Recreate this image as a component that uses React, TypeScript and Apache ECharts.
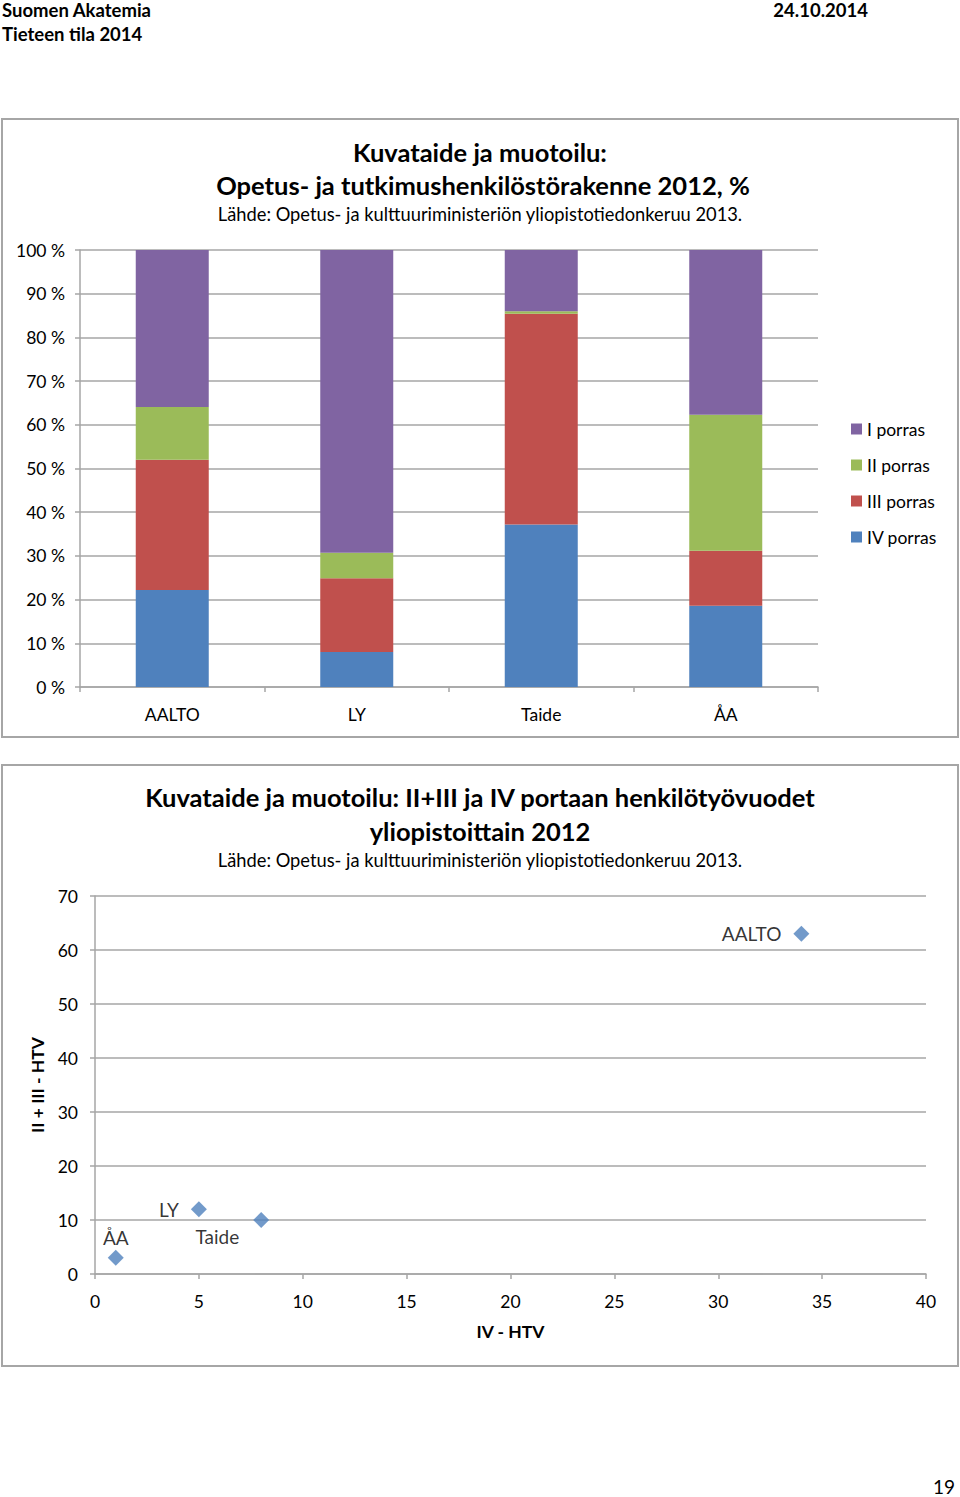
import React, { useEffect, useRef } from "react";
import * as echarts from "echarts";

const categories = ["AALTO", "LY", "Taide", "ÅA"];
const porrasI = [35.9, 69.3, 14.0, 37.7];
const porrasII = [12.1, 5.8, 0.6, 31.1];
const porrasIII = [29.8, 16.9, 48.2, 12.6];
const porrasIV = [22.2, 8.0, 37.2, 18.6];
const seriesNames = ["I porras", "II porras", "III porras", "IV porras"];

const scatterNames = ["AALTO", "LY", "Taide", "ÅA"];
const scatterX = [34, 5, 8, 1];
const scatterY = [63, 12, 10, 3];

const FONT = "Lato, 'Open Sans', sans-serif";
const BLUE = "#4F81BD";
const RED = "#C0504D";
const GREEN = "#9BBB59";
const PURPLE = "#8064A2";
const GRID = "#a6a6a6";

export default function App() {
  const ref = useRef<HTMLDivElement>(null);
  useEffect(() => {
    document.body.style.margin = "0";
    const chart = echarts.init(ref.current!, null, { renderer: "svg" });
    const txt = (text: string, x: number, y: number, size: number, bold: boolean, align = "center") => ({
      type: "text",
      x,
      y,
      style: {
        text,
        font: `${bold ? "bold " : ""}${size}px ${FONT}`,
        fill: "#000",
        textAlign: align,
        align,
        textVerticalAlign: "middle",
        verticalAlign: "middle",
      },
    });
    const labelPos: any[] = [
      { position: "left", distance: 12, offset: [0, 0] },
      { position: "left", distance: 12, offset: [0, 0] },
      { position: "left", distance: 5, offset: [-9, 16] },
      { position: "top", distance: 3, offset: [0, 0] },
    ];
    const option: any = {
      animation: false,
      backgroundColor: "#fff",
      textStyle: { fontFamily: FONT },
      graphic: [
        { type: "rect", shape: { x: 2, y: 119, width: 956, height: 618 }, style: { fill: "none", stroke: GRID, lineWidth: 2 } },
        { type: "rect", shape: { x: 2, y: 765, width: 956, height: 601 }, style: { fill: "none", stroke: GRID, lineWidth: 2 } },
        txt("Suomen Akatemia", 2, 10, 18.5, true, "left"),
        txt("Tieteen tila 2014", 2, 34, 18.5, true, "left"),
        txt("24.10.2014", 868, 10, 18.5, true, "right"),
        txt("Kuvataide ja muotoilu:", 480, 152, 25.5, true),
        txt("Opetus- ja tutkimushenkilöstörakenne 2012, %", 483, 185, 25.5, true),
        txt("Lähde: Opetus- ja kulttuuriministeriön yliopistotiedonkeruu 2013.", 480, 214, 18.3, false),
        txt("Kuvataide ja muotoilu: II+III ja IV portaan henkilötyövuodet", 480, 797, 25.5, true),
        txt("yliopistoittain 2012", 480, 831, 25.5, true),
        txt("Lähde: Opetus- ja kulttuuriministeriön yliopistotiedonkeruu 2013.", 480, 860, 18.3, false),
        txt("19", 955, 1486, 19, false, "right"),
      ],
      legend: {
        orient: "vertical",
        left: 846,
        top: 415,
        data: seriesNames,
        icon: "rect",
        itemWidth: 11,
        itemHeight: 11,
        itemGap: 18,
        itemStyle: { borderWidth: 0 },
        textStyle: { fontSize: 17.5, color: "#000", fontFamily: FONT, lineHeight: 18 },
      },
      grid: [
        { left: 80, right: 142, top: 250, bottom: 810 },
        { left: 95, right: 34, top: 896, bottom: 223 },
      ],
      xAxis: [
        {
          type: "category",
          gridIndex: 0,
          data: categories,
          axisLine: { lineStyle: { color: GRID, width: 1.5 } },
          axisTick: { show: true, length: 5, lineStyle: { color: GRID, width: 1.5 } },
          axisLabel: { color: "#000", fontSize: 17.5, margin: 18 },
        },
        {
          type: "value",
          gridIndex: 1,
          min: 0,
          max: 40,
          interval: 5,
          name: "IV - HTV",
          nameLocation: "middle",
          nameGap: 48,
          nameTextStyle: { fontSize: 17.5, fontWeight: "bold", color: "#000" },
          splitLine: { show: false },
          axisLine: { show: true, lineStyle: { color: GRID, width: 1.5 } },
          axisTick: { show: true, length: 5, lineStyle: { color: GRID, width: 1.5 } },
          axisLabel: { color: "#000", fontSize: 17.5, margin: 18 },
        },
      ],
      yAxis: [
        {
          type: "value",
          gridIndex: 0,
          min: 0,
          max: 100,
          interval: 10,
          axisLine: { show: true, lineStyle: { color: GRID, width: 1.5 } },
          axisTick: { show: true, length: 5, lineStyle: { color: GRID, width: 1.5 } },
          splitLine: { lineStyle: { color: GRID, width: 1.5 } },
          axisLabel: { color: "#000", fontSize: 17.5, margin: 15, formatter: "{value} %" },
        },
        {
          type: "value",
          gridIndex: 1,
          min: 0,
          max: 70,
          interval: 10,
          name: "II + III - HTV",
          nameLocation: "middle",
          nameGap: 47,
          nameRotate: 90,
          nameTextStyle: { fontSize: 17.5, fontWeight: "bold", color: "#000" },
          axisLine: { show: true, lineStyle: { color: GRID, width: 1.5 } },
          axisTick: { show: true, length: 5, lineStyle: { color: GRID, width: 1.5 } },
          splitLine: { lineStyle: { color: GRID, width: 1.5 } },
          axisLabel: { color: "#000", fontSize: 17.5, margin: 17 },
        },
      ],
      series: [
        { name: "IV porras", type: "bar", stack: "s", xAxisIndex: 0, yAxisIndex: 0, barWidth: 73, data: porrasIV, itemStyle: { color: BLUE } },
        { name: "III porras", type: "bar", stack: "s", xAxisIndex: 0, yAxisIndex: 0, barWidth: 73, data: porrasIII, itemStyle: { color: RED } },
        { name: "II porras", type: "bar", stack: "s", xAxisIndex: 0, yAxisIndex: 0, barWidth: 73, data: porrasII, itemStyle: { color: GREEN } },
        { name: "I porras", type: "bar", stack: "s", xAxisIndex: 0, yAxisIndex: 0, barWidth: 73, data: porrasI, itemStyle: { color: PURPLE } },
        {
          name: "HTV",
          type: "scatter",
          xAxisIndex: 1,
          yAxisIndex: 1,
          symbol: "diamond",
          symbolSize: 16,
          itemStyle: { color: BLUE },
          data: scatterNames.map((n, i) => ({
            name: n,
            value: [scatterX[i], scatterY[i]],
            label: { show: true, formatter: n, color: "#000", fontSize: 19, ...labelPos[i] },
          })),
        },
      ],
    };
    chart.setOption(option);
    return () => chart.dispose();
  }, []);
  return <div ref={ref} style={{ position: "absolute", left: 0, top: 0, width: 960, height: 1497 }} />;
}
